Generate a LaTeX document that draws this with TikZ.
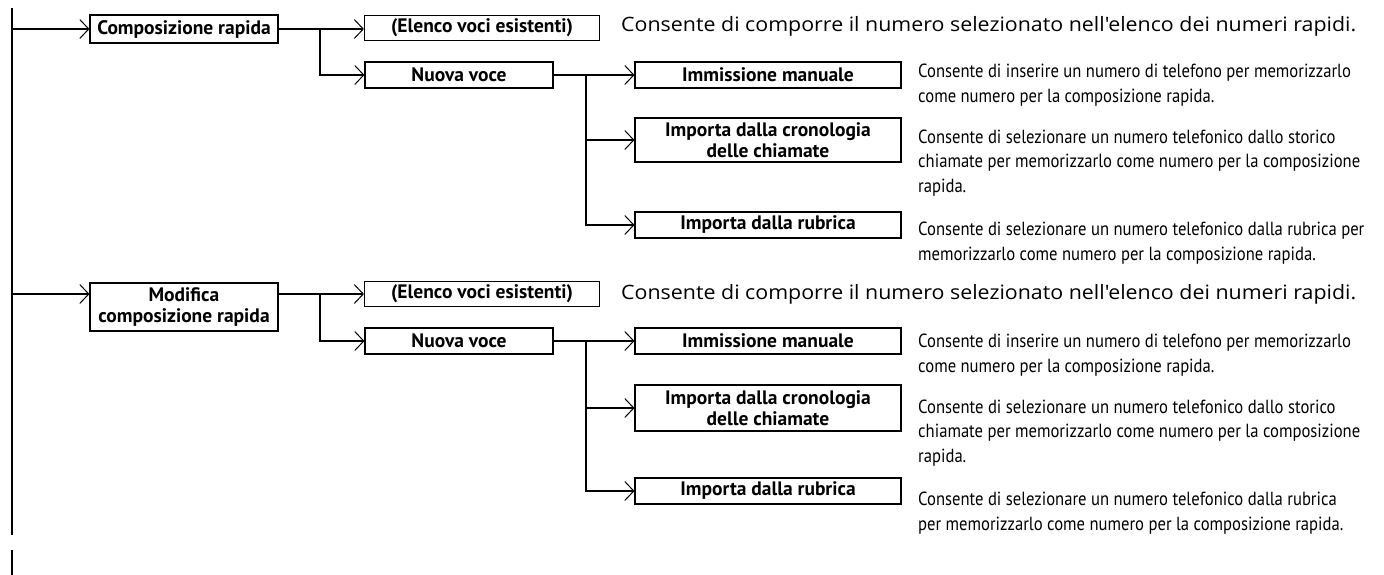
\documentclass[tikz,border=0pt]{standalone}
\usepackage{fontspec}
\setmainfont{Open Sans}
\newfontfamily\bigfont[FakeStretch=1.08]{Open Sans}
\newfontfamily\labelfont{PT Sans}
\newfontfamily\condfont[FakeStretch=0.875]{PT Sans}
\usetikzlibrary{positioning,arrows.meta,calc}

\begin{document}
\begin{tikzpicture}[x=1pt,y=-1pt,
box/.style={draw,line width=1.1pt,minimum height=26pt,inner sep=1pt,align=center,font=\labelfont\bfseries\fontsize{19.5}{20.5}\selectfont},
arr/.style={-{Straight Barb[length=9pt,width=19pt,line width=1pt]},line width=2.2pt},
conn/.style={line width=2.3pt},
desc/.style={anchor=base west,inner sep=0pt,align=left,font=\condfont\fontsize{19}{24.5}\selectfont},
big/.style={anchor=base west,inner sep=0pt,font=\bigfont\fontsize{19.8}{22}\selectfont}]
\useasboundingbox (0,0) rectangle (1384,574);
% trunk on the left
\coordinate (top) at (12,8);
\coordinate (bot) at (12,535);
\coordinate (top2) at (12,550);
\coordinate (bot2) at (12,576);
\coordinate (t1) at (12,29);
\coordinate (t2) at (12,294);
\draw[conn] (top) -- (bot);
\draw[conn] (top2) -- (bot2);
% first group
\node[box,minimum width=188pt,minimum height=28pt] (cr) at (184,29) {Composizione rapida};
\node[box,minimum width=235pt,minimum height=25pt] (el1) at (482,28) {(Elenco voci esistenti)};
\node[box,minimum width=188pt] (nv1) at (459,75) {Nuova voce};
\node[box,minimum width=266pt] (im1) at (768,75) {Immissione manuale};
\node[box,minimum width=266pt,minimum height=44pt] (cc1) at (768,140) {Importa dalla cronologia\\delle chiamate};
\node[box,minimum width=266pt] (rb1) at (768,225) {Importa dalla rubrica};
\coordinate (b1) at (320,29);
\coordinate (b2) at (586,75);
\draw[arr] (t1) -- (t1 -| cr.west);
\draw[arr] (cr.east) -- (cr.east -| el1.west);
\draw[arr] (b1) |- (nv1.west);
\draw[arr] (nv1.east) -- (im1.west);
\draw[arr] (b2) |- (cc1.west);
\draw[arr] (b2) |- (rb1.west);
% descriptions, placed at the baseline of their last line
\node[big] (del1) at (621,31) {Consente di comporre il numero selezionato nell'elenco dei numeri rapidi.};
\node[desc] (dim1) at (918,102) {Consente di inserire un numero di telefono per memorizzarlo\\come numero per la composizione rapida.};
\node[desc] (dcc1) at (918,192) {Consente di selezionare un numero telefonico dallo storico\\chiamate per memorizzarlo come numero per la composizione\\rapida.};
\node[desc] (drb1) at (918,260) {Consente di selezionare un numero telefonico dalla rubrica per\\memorizzarlo come numero per la composizione rapida.};
% second group
\node[box,minimum width=188pt,minimum height=48pt] (mc) at (184,307) {Modifica\\composizione rapida};
\node[box,minimum width=235pt,minimum height=25pt] (el2) at (482,294) {(Elenco voci esistenti)};
\node[box,minimum width=188pt] (nv2) at (459,341) {Nuova voce};
\node[box,minimum width=266pt] (im2) at (768,341) {Immissione manuale};
\node[box,minimum width=266pt,minimum height=46pt] (cc2) at (768,408) {Importa dalla cronologia\\delle chiamate};
\node[box,minimum width=266pt] (rb2) at (768,491) {Importa dalla rubrica};
\coordinate (b3) at (320,294);
\coordinate (b4) at (586,341);
\draw[arr] (t2) -- (t2 -| mc.west);
\draw[arr] (t2 -| mc.east) -- (el2.west);
\draw[arr] (b3) |- (nv2.west);
\draw[arr] (nv2.east) -- (im2.west);
\draw[arr] (b4) |- (cc2.west);
\draw[arr] (b4) |- (rb2.west);
\node[big] (del2) at (621,299) {Consente di comporre il numero selezionato nell'elenco dei numeri rapidi.};
\node[desc] (dim2) at (918,372) {Consente di inserire un numero di telefono per memorizzarlo\\come numero per la composizione rapida.};
\node[desc] (dcc2) at (918,462) {Consente di selezionare un numero telefonico dallo storico\\chiamate per memorizzarlo come numero per la composizione\\rapida.};
\node[desc] (drb2) at (918,530) {Consente di selezionare un numero telefonico dalla rubrica\\per memorizzarlo come numero per la composizione rapida.};
\end{tikzpicture}
\end{document}
